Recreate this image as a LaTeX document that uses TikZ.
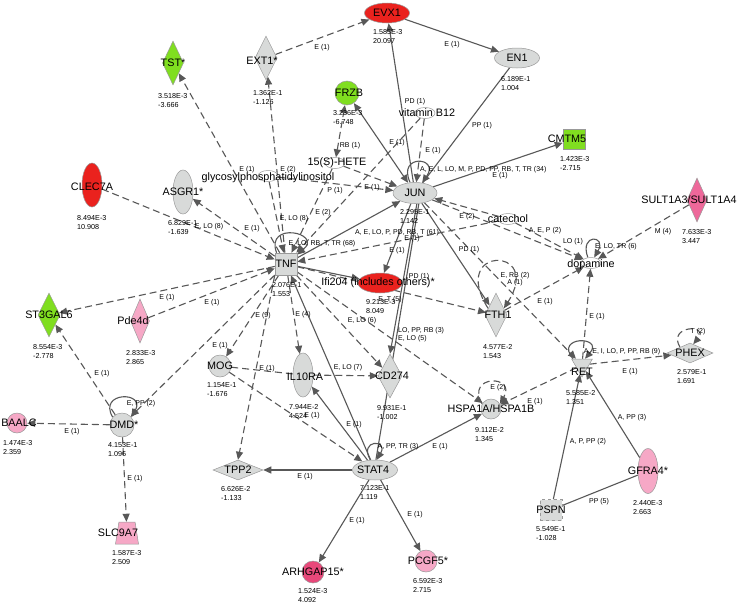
\documentclass[tikz,border=0pt]{standalone}
\usepackage{fontspec}
\setmainfont{Liberation Sans}
\usetikzlibrary{shapes.geometric, arrows.meta, backgrounds}

\definecolor{upred}{RGB}{234,34,30}
\definecolor{downgreen}{RGB}{128,222,32}
\definecolor{nochange}{RGB}{216,218,217}
\definecolor{uppink}{RGB}{246,168,198}
\definecolor{uphot}{RGB}{238,104,154}
\definecolor{upmid}{RGB}{232,72,122}
\definecolor{edgegrey}{RGB}{88,88,88}

\begin{document}
\begin{tikzpicture}[x=1pt, y=-1pt,
        shp/.style={draw=black!40, line width=0.5pt, inner sep=0pt},
        hell/.style={shp, ellipse, minimum width=45pt, minimum height=20pt},
        vell/.style={shp, ellipse, minimum width=20pt, minimum height=44pt},
        vdia/.style={shp, diamond, minimum width=21pt, minimum height=44pt},
        hdia/.style={shp, diamond, minimum width=46pt, minimum height=20pt},
        ball/.style={shp, circle, minimum size=22pt},
        sq/.style={shp, rectangle, minimum width=22pt, minimum height=21pt},
        chem/.style={shp, ellipse, fill=white, minimum width=20pt, minimum height=11pt},
        gene/.style={font=\fontsize{10.8}{12}\selectfont, inner sep=0pt},
        val/.style={font=\fontsize{7.2}{9.6}\selectfont, align=left, anchor=north west, inner sep=0pt},
        lab/.style={font=\fontsize{7}{8}\selectfont, inner sep=0pt},
        link/.style={draw=edgegrey, line width=1.1pt},
        act/.style={link, -{Triangle[length=8pt, width=7pt]}},
        both/.style={link, {Triangle[length=8pt, width=7pt]}-{Triangle[length=8pt, width=7pt]}},
        dlink/.style={link, dash pattern=on 7pt off 4pt},
        dact/.style={act, dash pattern=on 7pt off 4pt},
        dboth/.style={both, dash pattern=on 7pt off 4pt}]
        \useasboundingbox (0,0) rectangle (741,605);

        % Top row
        \node[hell, fill=upred, label={[gene]center:EVX1}] (evx1) at (387,13) {};
        \node[hell, fill=nochange, label={[gene]center:EN1}] (en1) at (517,58) {};
        \node[vdia, fill=downgreen, label={[gene]center:TST*}] (tst) at (173,63) {};
        \node[vdia, fill=nochange, minimum width=22pt, label={[gene, xshift=-4pt, yshift=-3pt]center:EXT1*}] (ext1) at (266,58) {};
        \node[ball, fill=downgreen, minimum size=24pt, label={[gene, xshift=2pt]center:FRZB}] (frzb) at (347,93) {};
        \node[sq, fill=downgreen, minimum height=20pt, label={[gene, xshift=-7pt]center:CMTM5}] (cmtm5) at (574,139) {};

        % Chemicals
        \node[chem, label={[gene, xshift=2pt]center:vitamin B12}] (vitb12) at (425,113) {};
        \node[chem, label={[gene, xshift=2pt]center:15(S)-HETE}] (hete) at (335,163) {};
        \node[chem, label={[gene, yshift=-2pt]center:glycosylphosphatidylinositol}] (glyco) at (268,176) {};
        \node[chem, label={[gene]center:catechol}] (catechol) at (508,219) {};
        \node[chem, label={[gene, yshift=-2pt]center:dopamine}] (dopamine) at (591,263) {};

        % Hubs
        \node[hell, fill=nochange, minimum width=44pt, minimum height=21pt, label={[gene]center:JUN}] (jun) at (415,193) {};
        \node[sq, fill=nochange, minimum height=22pt, label={[gene]center:TNF}] (tnf) at (286,264) {};
        \node[hell, fill=upred, minimum width=44pt, label={[gene, xshift=-2pt]center:Ifi204 (includes others)*}] (ifi204) at (380,283) {};
        \node[hell, fill=nochange, label={[gene, xshift=-2pt]center:STAT4}] (stat4) at (375,470) {};

        % Left side
        \node[vell, fill=upred, label={[gene, yshift=-2pt]center:CLEC7A}] (clec7a) at (92,185) {};
        \node[vell, fill=nochange, label={[gene]center:ASGR1*}] (asgr1) at (183,192) {};
        \node[vdia, fill=downgreen, minimum width=22pt, label={[gene]center:ST3GAL6}] (st3gal6) at (49,315) {};
        \node[vdia, fill=uppink, minimum width=19pt, label={[gene, xshift=-7pt]center:Pde4d}] (pde4d) at (140,321) {};
        \node[ball, fill=nochange, label={[gene]center:MOG}] (mog) at (220,366) {};
        \node[ball, fill=nochange, minimum size=24pt, label={[gene, xshift=2pt]center:DMD*}] (dmd) at (122,425) {};
        \node[ball, fill=uppink, minimum size=20pt, label={[gene, xshift=2pt]center:BAALC}] (baalc) at (17,423) {};
        \node[shp, trapezium, inner sep=2pt, trapezium stretches=true, trapezium left angle=78, trapezium right angle=78, minimum width=23pt, minimum height=22pt, fill=uppink, label={[gene, xshift=-9pt]center:SLC9A7}] (slc9a7) at (127,533) {};
        \node[hdia, fill=nochange, minimum width=50pt, label={[gene]center:TPP2}] (tpp2) at (238,470) {};

        % Middle
        \node[vell, fill=nochange, label={[gene, xshift=2pt, yshift=-2pt]center:IL10RA}] (il10ra) at (303,375) {};
        \node[vdia, fill=nochange, minimum width=24pt, label={[gene, xshift=2pt]center:CD274}] (cd274) at (390,376) {};
        \node[vdia, fill=nochange, minimum width=22pt, label={[gene, xshift=2pt]center:FTH1}] (fth1) at (496,315) {};
        \node[ball, fill=nochange, minimum size=20pt, label={[gene]center:HSPA1A/HSPA1B}] (hspa) at (491,409) {};
        \node[ball, fill=upmid, label={[gene]center:ARHGAP15*}] (arhgap) at (313,572) {};
        \node[ball, fill=uppink, label={[gene, xshift=2pt]center:PCGF5*}] (pcgf5) at (426,561) {};

        % Right side
        \node[vdia, fill=uphot, minimum width=20pt, label={[gene, xshift=-8pt]center:SULT1A3/SULT1A4}] (sult) at (697,200) {};
        \node[shp, regular polygon, regular polygon sides=3, shape border rotate=180, minimum size=24pt, fill=nochange, label={[gene, yshift=-7pt]center:RET}] (ret) at (582,365) {};
        \node[hdia, fill=nochange, label={[gene]center:PHEX}] (phex) at (690,353) {};
        \node[sq, fill=nochange, dashed, label={[gene]center:PSPN}] (pspn) at (551,510) {};
        \node[vell, fill=uppink, minimum height=45pt, label={[gene]center:GFRA4*}] (gfra4) at (648,471) {};

        % Scores
        \node[val] (evx1v) at (373,29) {1.585E-3\\20.097};
        \node[val] (en1v) at (501,76) {6.189E-1\\1.004};
        \node[val] (tstv) at (158,93) {3.518E-3\\-3.666};
        \node[val] (ext1v) at (253,90) {1.362E-1\\-1.126};
        \node[val] (frzbv) at (333,110) {3.236E-3\\-6.748};
        \node[val] (cmtm5v) at (560,156) {1.423E-3\\-2.715};
        \node[val] (clec7av) at (77,215) {8.494E-3\\10.908};
        \node[val] (asgr1v) at (168,220) {6.829E-1\\-1.639};
        \node[val] (junv) at (400,209) {2.295E-1\\1.142};
        \node[val] (sultv) at (682,229) {7.633E-3\\3.447};
        \node[val] (tnfv) at (272,282) {2.076E-1\\1.553};
        \node[val] (ifi204v) at (366,299) {9.213E-3\\8.049};
        \node[val] (st3gal6v) at (33,344) {8.554E-3\\-2.778};
        \node[val] (pde4dv) at (126,350) {2.833E-3\\2.865};
        \node[val] (fth1v) at (483,344) {4.577E-2\\1.543};
        \node[val] (mogv) at (207,382) {1.154E-1\\-1.676};
        \node[val] (il10rav) at (289,404) {7.944E-2\\4.524};
        \node[val] (cd274v) at (377,405) {9.931E-1\\-1.002};
        \node[val] (phexv) at (677,369) {2.579E-1\\1.691};
        \node[val] (retv) at (566,390) {5.585E-2\\1.351};
        \node[val] (dmdv) at (108,442) {4.153E-1\\1.096};
        \node[val] (baalcv) at (3,440) {1.474E-3\\2.359};
        \node[val] (hspav) at (475,427) {9.112E-2\\1.345};
        \node[val] (stat4v) at (360,485) {7.123E-1\\1.119};
        \node[val] (tpp2v) at (221,486) {6.626E-2\\-1.133};
        \node[val] (slc9a7v) at (112,550) {1.587E-3\\2.509};
        \node[val] (arhgapv) at (298,588) {1.524E-3\\4.092};
        \node[val] (pcgf5v) at (413,578) {6.592E-3\\2.715};
        \node[val] (pspnv) at (536,526) {5.549E-1\\-1.028};
        \node[val] (gfra4v) at (633,500) {2.440E-3\\2.663};

        % Relationship labels
        \node[lab] (l1) at (322,48) {E (1)};
        \node[lab] (l2) at (452,45) {E (1)};
        \node[lab] (l3) at (415,102) {PD (1)};
        \node[lab] (l4) at (482,126) {PP (1)};
        \node[lab] (l5) at (350,146) {RB (1)};
        \node[lab] (l6) at (397,143) {E (1)};
        \node[lab] (l7) at (433,151) {E (1)};
        \node[lab, anchor=west] (l8) at (420,170) {A, E, L, LO, M, P, PD, PP, RB, T, TR (34)};
        \node[lab] (l9) at (500,176) {E (1)};
        \node[lab] (l10) at (247,170) {E (1)};
        \node[lab] (l11) at (288,170) {E (2)};
        \node[lab] (l12) at (335,191) {P (1)};
        \node[lab] (l13) at (372,188) {E (1)};
        \node[lab] (l14) at (323,213) {E (2)};
        \node[lab] (l15) at (294,219) {E, LO (8)};
        \node[lab] (l16) at (209,227) {E, LO (8)};
        \node[lab] (l17) at (252,229) {E (1)};
        \node[lab] (l18) at (397,233) {A, E, LO, P, PD, RB, T (61)};
        \node[lab] (l19) at (467,217) {E (2)};
        \node[lab] (l20) at (545,231) {A, E, P (2)};
        \node[lab] (l21) at (573,242) {LO (1)};
        \node[lab] (l22) at (616,247) {E, LO, TR (6)};
        \node[lab] (l23) at (663,232) {M (4)};
        \node[lab] (l24) at (322,244) {E, LO, RB, T, TR (68)};
        \node[lab] (l25) at (412,239) {E (1)};
        \node[lab] (l26) at (397,251) {E (1)};
        \node[lab] (l27) at (469,250) {PD (1)};
        \node[lab] (l28) at (419,277) {PD (1)};
        \node[lab] (l29) at (515,276) {E, RB (2)};
        \node[lab] (l30) at (515,283) {A (1)};
        \node[lab] (l31) at (390,300) {E, T (5)};
        \node[lab] (l32) at (545,302) {E (1)};
        \node[lab] (l33) at (167,298) {E (1)};
        \node[lab] (l34) at (212,303) {E (1)};
        \node[lab] (l35) at (263,316) {E (9)};
        \node[lab] (l36) at (303,315) {E (4)};
        \node[lab] (l37) at (362,321) {E, LO (6)};
        \node[lab, anchor=west] (l38) at (398,331) {LO, PP, RB (3)};
        \node[lab, anchor=west] (l39) at (398,339) {E, LO (5)};
        \node[lab] (l40) at (597,317) {E (1)};
        \node[lab] (l41) at (220,346) {E (1)};
        \node[lab] (l42) at (698,332) {T (2)};
        \node[lab] (l43) at (622,352) {A, E, I, LO, P, PP, RB (9)};
        \node[lab] (l44) at (267,369) {E (1)};
        \node[lab] (l45) at (348,368) {E, LO (7)};
        \node[lab] (l46) at (630,372) {E (1)};
        \node[lab] (l47) at (102,374) {E (1)};
        \node[lab] (l48) at (498,388) {E (2)};
        \node[lab] (l49) at (141,404) {E, PP (2)};
        \node[lab] (l50) at (535,402) {E (1)};
        \node[lab] (l51) at (312,416) {E (1)};
        \node[lab] (l52) at (632,418) {A, PP (3)};
        \node[lab] (l53) at (354,425) {E (1)};
        \node[lab] (l54) at (72,432) {E (1)};
        \node[lab] (l55) at (440,447) {E (1)};
        \node[lab] (l56) at (588,442) {A, P, PP (2)};
        \node[lab] (l57) at (398,447) {A, PP, TR (3)};
        \node[lab] (l58) at (305,477) {E (1)};
        \node[lab] (l59) at (135,479) {E (1)};
        \node[lab] (l60) at (599,502) {PP (5)};
        \node[lab] (l61) at (415,515) {E (1)};
        \node[lab] (l62) at (357,521) {E (1)};

        \begin{scope}[on background layer]
        \fill[white] (0,0) rectangle (741,605);

        % JUN and the top
        \draw[dact] (ext1) -- (evx1);
        \draw[act] (evx1) -- (en1);
        \draw[act] (jun) -- (evx1);
        \draw[link] (jun) -- (en1);
        \draw[act] (jun) -- (cmtm5);
        \draw[both] (jun) -- (frzb);
        \draw[dboth] (hete) -- (frzb);
        \draw[dact] (hete) -- (jun);
        \draw[dact] (vitb12) -- (jun);
        \draw[dact] (glyco) -- (jun);
        \draw[dact] (catechol) -- (jun);
        \draw[act] (jun.115) .. controls +(115:32pt) and +(55:32pt) .. (jun.55);

        % TNF spokes
        \draw[dact] (tnf) -- (tst);
        \draw[dact] (tnf) -- (ext1);
        \draw[dact] (tnf) -- (asgr1);
        \draw[dact] (clec7a) -- (tnf);
        \draw[dact] (glyco) -- (tnf);
        \draw[dact] (hete) -- (tnf);
        \draw[dact] (vitb12) -- (tnf);
        \draw[dact] (catechol) -- (tnf);
        \draw[act] (tnf) -- (jun);
        \draw[act] (tnf) -- (ifi204);
        \draw[act] (jun) -- (ifi204);
        \draw[dact] (tnf) -- (fth1);
        \draw[dact] (tnf) -- (cd274);
        \draw[dact] (tnf) -- (hspa);
        \draw[dact] (tnf) -- (il10ra);
        \draw[dact] (tnf.south west) -- (tpp2.north);
        \draw[dact] (tnf) -- (mog);
        \draw[dact] (tnf) -- (dmd);
        \draw[dact] (tnf) -- (st3gal6);
        \draw[dact] (pde4d) -- (tnf);
        \draw[act] (stat4) -- (tnf);
        \draw[act] (tnf.130) .. controls +(110:34pt) and +(40:34pt) .. (tnf.40);

        % Lower left
        \draw[dact] (dmd) -- (st3gal6);
        \draw[dact] (dmd) -- (baalc);
        \draw[dact] (dmd) -- (slc9a7);
        \draw[act] (dmd.140) .. controls +(120:30pt) and +(60:30pt) .. (dmd.40);
        \draw[dlink] (mog) -- (il10ra);
        \draw[dact] (il10ra) -- (cd274);
        \draw[dact] (mog) -- (stat4);

        % STAT4
        \draw[link] (jun.-70) -- (stat4.85);
        \draw[act] (jun.-80) -- (cd274.north);
        \draw[act] (stat4) -- (il10ra);
        \draw[act] (stat4) -- (tpp2);
        \draw[act] (stat4) -- (hspa);
        \draw[act] (stat4) -- (arhgap);
        \draw[act] (stat4) -- (pcgf5);
        \draw[act] (stat4.115) .. controls +(120:24pt) and +(60:24pt) .. (stat4.80);

        % Right side
        \draw[act] (jun) -- (fth1);
        \draw[dact] (fth1.140) .. controls +(-40,-63) and +(40,-63) .. (fth1.40);
        \draw[dact] (fth1) -- (dopamine);
        \draw[dact] (jun) -- (dopamine);
        \draw[dact] (catechol) -- (dopamine);
        \draw[dact] (sult) -- (dopamine);
        \draw[act] (dopamine.120) .. controls +(110:26pt) and +(60:26pt) .. (dopamine.60);
        \draw[dact] (jun) -- (ret);
        \draw[dact] (ret) -- (dopamine);
        \draw[dact] (ret) -- (phex);
        \draw[dact] (ret) -- (hspa);
        \draw[act] ([xshift=-9pt]ret.north) .. controls +(130:30pt) and +(50:30pt) .. ([xshift=3pt]ret.north);
        \draw[dact] (phex.150) .. controls +(120:26pt) and +(50:26pt) .. (phex.70);
        \draw[dact] (hspa.150) .. controls +(120:34pt) and +(60:34pt) .. (hspa.30);
        \draw[act] (pspn) -- (ret);
        \draw[act] (gfra4) -- (ret);
        \draw[link] (pspn) -- (gfra4);
        \end{scope}
    \end{tikzpicture}
\end{document}
